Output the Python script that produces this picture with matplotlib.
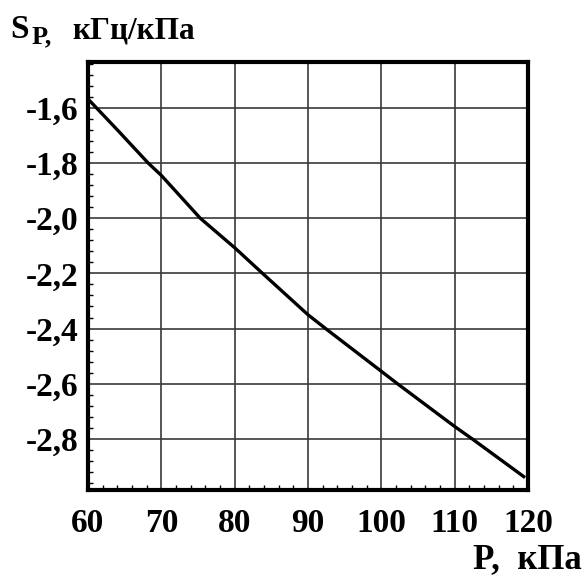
import numpy as np
import matplotlib.pyplot as plt
from matplotlib.ticker import MultipleLocator, FuncFormatter

# values
p_values = [60, 64, 68.2, 70, 75.3, 80, 83.8, 90, 92.4, 100, 102.2, 110, 112.4, 119.6]
s_values = [-1.568, -1.68, -1.80, -1.845, -2.00, -2.107, -2.20, -2.35, -2.40, -2.555, -2.60, -2.755, -2.80, -2.94]

x_ticks = [60, 70, 80, 90, 100, 110, 120]
y_ticks = [-1.6, -1.8, -2.0, -2.2, -2.4, -2.6, -2.8]

plt.rcParams['font.family'] = ['Liberation Serif', 'DejaVu Serif']
plt.rcParams['font.weight'] = 'bold'

fig = plt.figure(figsize=(5.85, 5.76), dpi=100)
ax = fig.add_axes([0.1504, 0.1493, 0.7522, 0.7431])

ax.plot(p_values, s_values, color='black', linewidth=2.4, solid_capstyle='butt')

ax.set_xlim(60, 120)
ax.set_ylim(-2.985, -1.434)

ax.set_xticks(x_ticks)
ax.set_yticks(y_ticks)
ax.xaxis.set_minor_locator(MultipleLocator(2))
ax.yaxis.set_minor_locator(MultipleLocator(0.04))
ax.yaxis.set_major_formatter(FuncFormatter(lambda v, pos: ('%.1f' % v).replace('.', ',')))

ax.grid(which='major', color='#3a3a3a', linewidth=1.2)
ax.tick_params(which='major', length=0, labelsize=24)
ax.tick_params(axis='x', which='major', pad=13)
ax.tick_params(axis='y', which='major', pad=7)
ax.tick_params(which='minor', direction='in', length=3.5, width=1, color='black')
ax.tick_params(which='minor', top=False, right=False)

for sp in ax.spines.values():
    sp.set_linewidth(3)
    sp.set_color('black')

for lbl in ax.get_xticklabels() + ax.get_yticklabels():
    lbl.set_fontweight('bold')

# axis captions
fig.text(10 / 585, 1 - 38 / 576, 'S', fontsize=24, fontweight='bold', ha='left', va='baseline')
fig.text(32 / 585, 1 - 43 / 576, 'P,', fontsize=19, fontweight='bold', ha='left', va='baseline')
fig.text(72 / 585, 1 - 38 / 576, 'кГц/кПа', fontsize=22.5, fontweight='bold', ha='left', va='baseline')
fig.text(582 / 585, 1 - 568 / 576, 'P,  кПа', fontsize=25, fontweight='bold', ha='right', va='baseline')

fig.savefig('out.png', dpi=100)
